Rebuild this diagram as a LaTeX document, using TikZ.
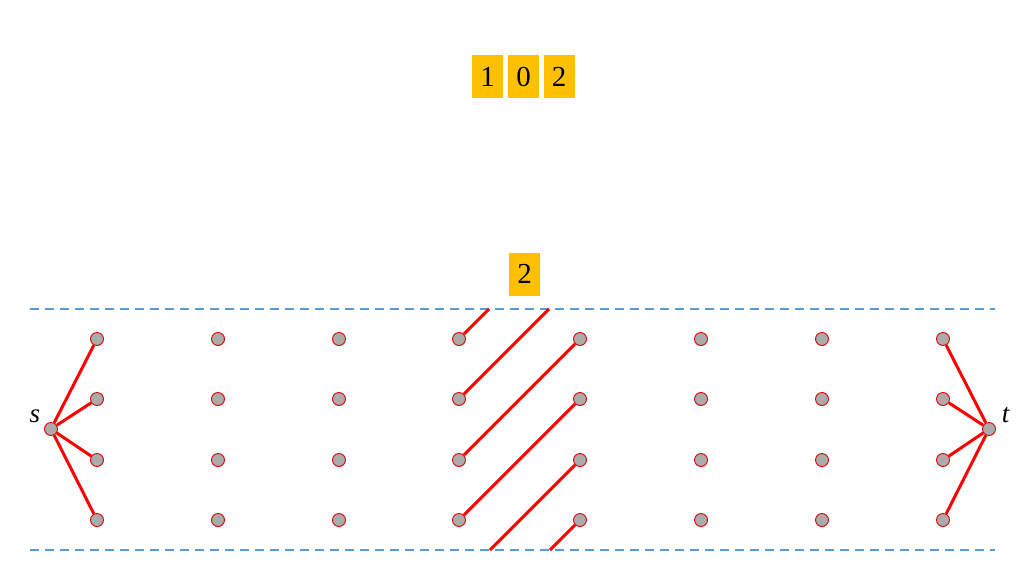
\documentclass[tikz,border=0pt]{standalone}
\usepackage{fontspec}
\setmainfont{Liberation Serif}
\begin{document}
\begin{tikzpicture}[x=1pt,y=-1pt,
  dot/.style={circle,draw=red!85!black,line width=0.9pt,fill=black!33,minimum size=13pt,inner sep=0pt},
  edge/.style={draw=red,line width=3pt},
  digit/.style={fill=digitfill,minimum width=31pt,minimum height=43pt,inner sep=0pt,font=\fontsize{29}{32}\selectfont},
  guide/.style={draw=guideblue,line width=1.3pt,dash pattern=on 9pt off 6pt},
  lbl/.style={font=\fontsize{27}{30}\selectfont\itshape,inner sep=0pt}]
\definecolor{digitfill}{HTML}{FFC000}
\definecolor{guideblue}{HTML}{5B9BD5}
\useasboundingbox (0,0) rectangle (1024,576);
% digits
\node[digit] (d1) at (487.5,76.5) {1};
\node[digit] (d0) at (523.5,76.5) {0};
\node[digit] (d2) at (559,76.5) {2};
\node[digit] (dd) at (524.5,274) {2};
% guides
\coordinate (gtl) at (30,309);
\coordinate (gtr) at (995,309);
\coordinate (gbl) at (30,550);
\coordinate (gbr) at (995,550);
\draw[guide] (gtl) -- (gtr);
\draw[guide] (gbl) -- (gbr);
% free ends on guides
\coordinate (e1) at (489,309);
\coordinate (e2) at (549,309);
\coordinate (e3) at (490,550);
\coordinate (e4) at (550,550);
% grid nodes
\foreach \c/\x in {1/97,2/218,3/339,4/459,5/580,6/701,7/822,8/943}{
  \foreach \r/\y in {1/339,2/399,3/460,4/520}{
    \node[dot] (n\c\r) at (\x,\y) {};
  }
}
\node[dot] (s) at (51,429) {};
\node[dot] (t) at (989,429) {};
\node[lbl,anchor=base] (sl) at (35,422) {s};
\node[lbl,anchor=base] (tl) at (1005.5,422) {t};
% edges
\foreach \r in {1,2,3,4}{
  \draw[edge] (s) -- (n1\r);
  \draw[edge] (n8\r) -- (t);
}
\draw[edge] (n41) -- (e1);
\draw[edge] (n42) -- (e2);
\draw[edge] (n43) -- (n51);
\draw[edge] (n44) -- (n52);
\draw[edge] (e3) -- (n53);
\draw[edge] (e4) -- (n54);
\end{tikzpicture}
\end{document}
